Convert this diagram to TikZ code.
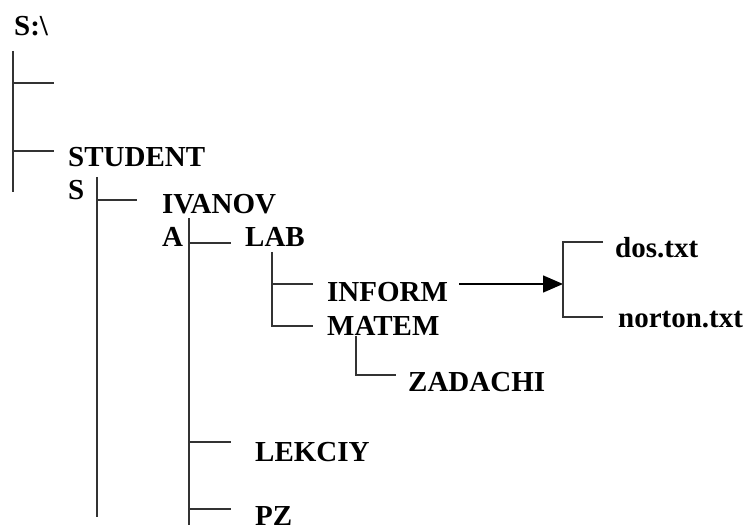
\documentclass[tikz,border=0pt]{standalone}
\usepackage{fontspec}
\setmainfont{Liberation Serif}
\usetikzlibrary{arrows.meta}
\begin{document}
\begin{tikzpicture}[x=1pt,y=-1pt,
  lbl/.style={anchor=base west,inner sep=0pt,font=\fontsize{29}{29}\selectfont\bfseries},
  tree/.style={line width=1.4pt,draw=black!80},
  arr/.style={line width=1.4pt,draw=black,-{Triangle[length=20pt,width=17pt]}}]
\useasboundingbox (0,0) rectangle (747,529);
% labels
\node[lbl] (root) at (14,36) {S:\textbackslash};
\node[lbl] (stud1) at (68,167) {STUDENT};
\node[lbl] (stud2) at (68,200) {S};
\node[lbl] (ivan1) at (162,214) {IVANOV};
\node[lbl] (ivan2) at (162,247) {A};
\node[lbl] (lab) at (245,247) {LAB};
\node[lbl] (inform) at (327,302) {INFORM};
\node[lbl] (matem) at (327,335) {MATEM};
\node[lbl] (zad) at (408,391) {ZADACHI};
\node[lbl] (lek) at (255,461) {LEKCIY};
\node[lbl] (pz) at (255,525) {PZ};
\node[lbl] (dos) at (615,258) {dos.txt};
\node[lbl] (nort) at (618,327) {norton.txt};
% coordinates
\coordinate (a0) at (13,51);  \coordinate (a1) at (13,192);
\coordinate (a2) at (13,83);  \coordinate (a3) at (54,83);
\coordinate (a4) at (13,151); \coordinate (a5) at (54,151);
\coordinate (b0) at (97,177); \coordinate (b1) at (97,517);
\coordinate (b2) at (97,200); \coordinate (b3) at (137,200);
\coordinate (c0) at (189,218); \coordinate (c1) at (189,525);
\coordinate (c2) at (189,243); \coordinate (c3) at (231,243);
\coordinate (c4) at (189,442); \coordinate (c5) at (231,442);
\coordinate (c6) at (189,509); \coordinate (c7) at (231,509);
\coordinate (d0) at (272,252); \coordinate (d1) at (272,326);
\coordinate (d2) at (272,284); \coordinate (d3) at (313,284);
\coordinate (d4) at (313,326);
\coordinate (e0) at (356,336); \coordinate (e1) at (356,375);
\coordinate (e2) at (396,375);
\coordinate (f0) at (459,284); \coordinate (f1) at (563,284);
\coordinate (g0) at (563,242); \coordinate (g1) at (563,317);
\coordinate (g2) at (603,242); \coordinate (g3) at (603,317);
% tree lines
\draw[tree] (a0) -- (a1);
\draw[tree] (a2) -- (a3);
\draw[tree] (a4) -- (a5);
\draw[tree] (b0) -- (b1);
\draw[tree] (b2) -- (b3);
\draw[tree] (c0) -- (c1);
\draw[tree] (c2) -- (c3);
\draw[tree] (c4) -- (c5);
\draw[tree] (c6) -- (c7);
\draw[tree] (d0) -- (d1) -- (d4);
\draw[tree] (d2) -- (d3);
\draw[tree] (e0) -- (e1) -- (e2);
\draw[arr] (f0) -- (f1);
\draw[tree] (g2) -- (g0) -- (g1) -- (g3);
\end{tikzpicture}
\end{document}
